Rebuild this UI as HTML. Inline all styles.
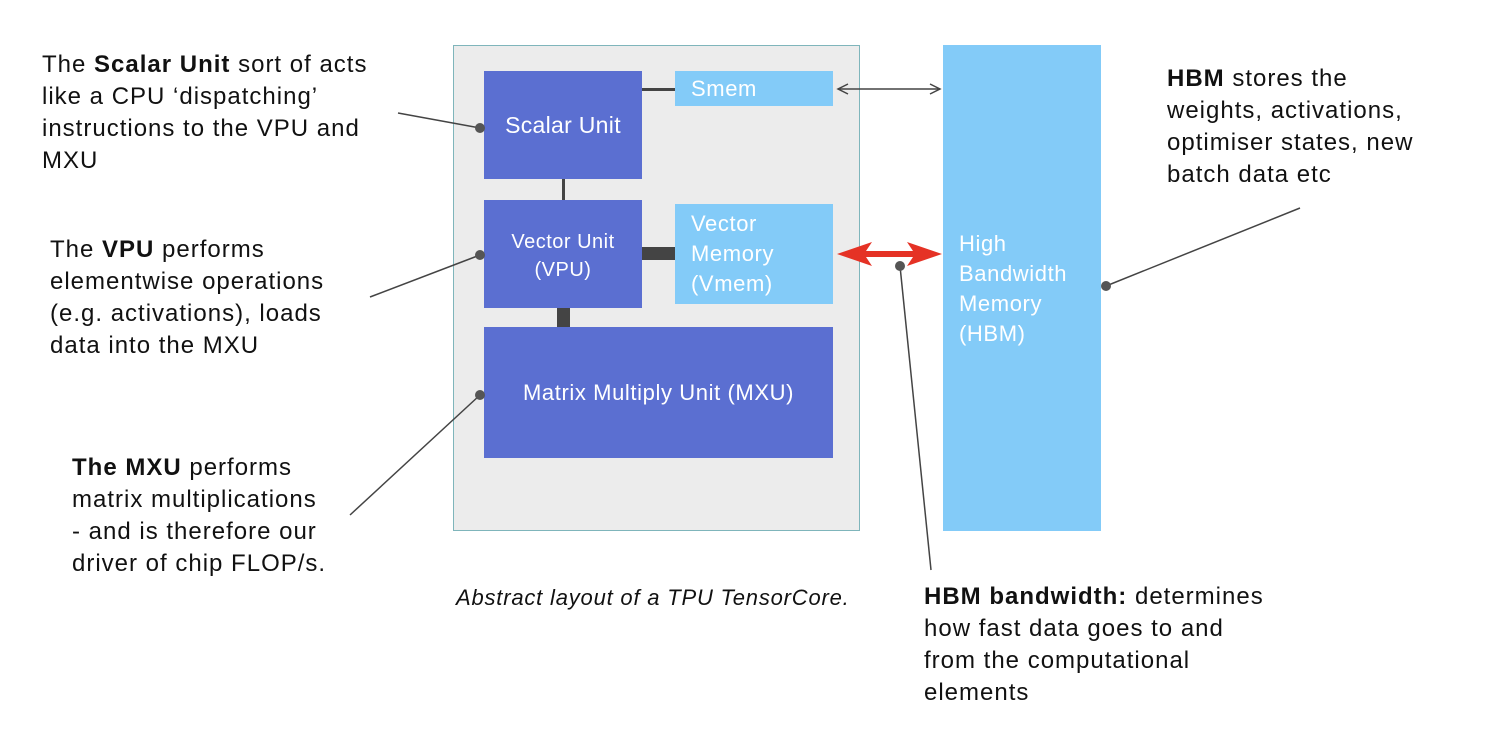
<!DOCTYPE html>
<html><head><style>
body{margin:0;width:1494px;height:742px;background:#fff;position:relative;font-family:"Liberation Sans",sans-serif;overflow:hidden}
.a{position:absolute}
.t{position:absolute;font-size:24px;line-height:32px;color:#111;letter-spacing:1px;white-space:nowrap}
.w{color:#fff;font-size:22px;position:absolute;letter-spacing:0.6px;white-space:nowrap}
</style></head><body>
<div class="a" style="left:453px;top:45px;width:405px;height:484px;background:#ececec;border:1.5px solid #7fb5bb"></div>
<div class="a" style="left:484px;top:71px;width:158px;height:108px;background:#5b6fd1"></div>
<div class="a" style="left:675px;top:71px;width:158px;height:35px;background:#83cbf8"></div>
<div class="a" style="left:484px;top:200px;width:158px;height:108px;background:#5b6fd1"></div>
<div class="a" style="left:675px;top:204px;width:158px;height:100px;background:#83cbf8"></div>
<div class="a" style="left:484px;top:327px;width:349px;height:131px;background:#5b6fd1"></div>
<div class="a" style="left:943px;top:45px;width:158px;height:486px;background:#83cbf8"></div>
<div class="a" style="left:642px;top:88px;width:33px;height:3px;background:#444"></div>
<div class="a" style="left:562px;top:179px;width:3px;height:21px;background:#444"></div>
<div class="a" style="left:642px;top:247px;width:33px;height:13px;background:#444"></div>
<div class="a" style="left:557px;top:308px;width:13px;height:19px;background:#444"></div>
<div class="w" style="left:484px;top:112px;width:158px;text-align:center;font-size:23px;letter-spacing:0.3px">Scalar Unit</div>
<div class="w" style="left:691px;top:76px">Smem</div>
<div class="w" style="left:484px;top:228px;width:158px;text-align:center;font-size:20px;line-height:28px;letter-spacing:0.5px">Vector Unit<br>(VPU)</div>
<div class="w" style="left:691px;top:209px;line-height:30px">Vector<br>Memory<br>(Vmem)</div>
<div class="w" style="left:484px;top:380px;width:349px;text-align:center">Matrix Multiply Unit (MXU)</div>
<div class="w" style="left:959px;top:229px;line-height:30px">High<br>Bandwidth<br>Memory<br>(HBM)</div>
<svg class="a" style="left:0;top:0" width="1494" height="742">
<g stroke="#444" stroke-width="1.5" fill="none">
<line x1="838" y1="89" x2="940" y2="89"/>
<polyline points="848,84 838,89 848,94"/>
<polyline points="930,84 940,89 930,94"/>
<line x1="398" y1="113" x2="480" y2="128"/>
<line x1="370" y1="297" x2="480" y2="255"/>
<line x1="350" y1="515" x2="480" y2="395"/>
<line x1="900" y1="266" x2="931" y2="570"/>
<line x1="1106" y1="286" x2="1300" y2="208"/>
</g>
<g fill="#555"><circle cx="480" cy="128" r="5"/><circle cx="480" cy="255" r="5"/><circle cx="480" cy="395" r="5"/><circle cx="900" cy="266" r="5"/><circle cx="1106" cy="286" r="5"/></g>
<line x1="850" y1="254" x2="930" y2="254" stroke="#e53225" stroke-width="6"/>
<polygon points="837,254 872,242 864,254 872,266" fill="#e53225"/>
<polygon points="942,254 907,242 915,254 907,266" fill="#e53225"/>
</svg>
<div class="t" style="left:42px;top:49px">The <b>Scalar Unit</b> sort of acts<br>like a CPU ‘dispatching’<br>instructions to the VPU and<br>MXU</div>
<div class="t" style="left:50px;top:234px">The <b>VPU</b> performs<br>elementwise operations<br>(e.g. activations), loads<br>data into the MXU</div>
<div class="t" style="left:72px;top:452px"><b>The MXU</b> performs<br>matrix multiplications<br>- and is therefore our<br>driver of chip FLOP/s.</div>
<div class="t" style="left:1167px;top:63px"><b>HBM</b> stores the<br>weights, activations,<br>optimiser states, new<br>batch data etc</div>
<div class="t" style="left:924px;top:581px"><b>HBM bandwidth:</b> determines<br>how fast data goes to and<br>from the computational<br>elements</div>
<div class="t" style="left:456px;top:582px;font-style:italic;font-size:22px;letter-spacing:0.8px">Abstract layout of a TPU TensorCore.</div>
</body></html>
